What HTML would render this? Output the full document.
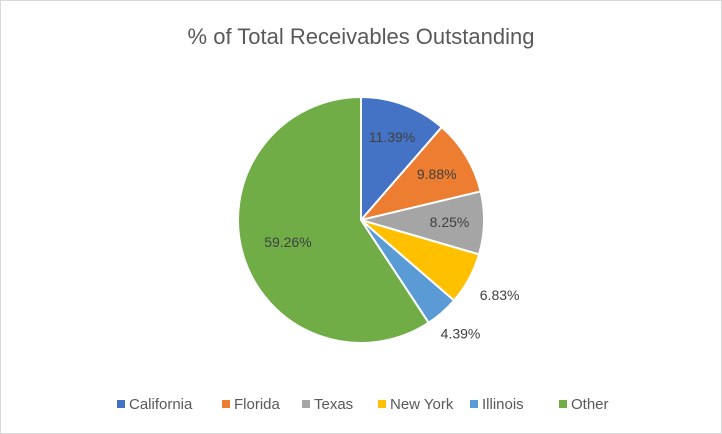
<!DOCTYPE html>
<html><head><meta charset="utf-8"><style>
body{margin:0;background:#fff;font-family:"Liberation Sans",sans-serif;}
svg{display:block}
</style></head><body>
<svg width="722" height="434" viewBox="0 0 722 434">
<rect x="0.5" y="0.5" width="721" height="433" fill="#fff" stroke="#d9d9d9"/>
<text x="361" y="44" text-anchor="middle" font-size="22" fill="#595959">% of Total Receivables Outstanding</text>
<g id="slices"></g>
<g id="labels"></g>
<g id="legend"></g>
</svg>
<script>
const categories=["California","Florida","Texas","New York","Illinois","Other"];
const values=[11.39,9.88,8.25,6.83,4.39,59.26];
const labels=["11.39%","9.88%","8.25%","6.83%","4.39%","59.26%"];
const colors=["#4472c4","#ed7d31","#a5a5a5","#ffc000","#5b9bd5","#70ad47"];
const NS="http://www.w3.org/2000/svg";
const cx=361,cy=220,r=123;
const total=values.reduce((a,b)=>a+b,0);
function pt(a,rad){return [cx+rad*Math.sin(a),cy-rad*Math.cos(a)];}
let acc=0;
const sg=document.getElementById('slices'),lg=document.getElementById('labels');
values.forEach((v,i)=>{
  const a0=acc/total*2*Math.PI;acc+=v;const a1=acc/total*2*Math.PI;
  const p0=pt(a0,r),p1=pt(a1,r);
  const large=(a1-a0)>Math.PI?1:0;
  const path=document.createElementNS(NS,'path');
  path.setAttribute('d',`M${cx},${cy}L${p0[0]},${p0[1]}A${r},${r} 0 ${large} 1 ${p1[0]},${p1[1]}Z`);
  path.setAttribute('fill',colors[i]);path.setAttribute('stroke','#fff');path.setAttribute('stroke-width','2');
  
  
  sg.appendChild(path);
  const am=(a0+a1)/2;
  const outside=v<7.5;
  let lp=pt(am,outside?r+28:(v>30?r*0.62:r*0.72));
  if(outside){lp=[lp[0]+(i===3?6:0),lp[1]+(i===3?3:0)];}
  const t=document.createElementNS(NS,'text');
  t.setAttribute('x',lp[0]);t.setAttribute('y',lp[1]+5);
  t.setAttribute('text-anchor','middle');t.setAttribute('font-size','14');t.setAttribute('fill','#404040');
  
  
  t.textContent=labels[i];lg.appendChild(t);
});
const leg=document.getElementById('legend');
const lx=[117,222,302,378,470,559];
categories.forEach((c,i)=>{
  const g=document.createElementNS(NS,'g');
  
  
  const s=document.createElementNS(NS,'rect');
  s.setAttribute('x',lx[i]);s.setAttribute('y',400);s.setAttribute('width',8);s.setAttribute('height',8);s.setAttribute('fill',colors[i]);
  
  
  const t=document.createElementNS(NS,'text');
  t.setAttribute('x',lx[i]+12);t.setAttribute('y',409);t.setAttribute('font-size','15');t.setAttribute('fill','#595959');
  
  
  t.textContent=c;
  g.appendChild(s);g.appendChild(t);leg.appendChild(g);
});
</script>
</body></html>
